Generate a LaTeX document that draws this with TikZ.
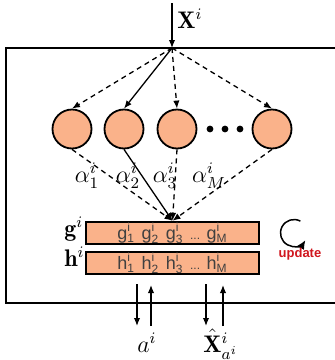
\documentclass[tikz,border=0pt,12pt]{standalone}
\usepackage{fontspec}
\setsansfont{Liberation Sans}
\usetikzlibrary{arrows.meta}
\definecolor{salmon}{RGB}{250,178,138}
\definecolor{updred}{RGB}{208,22,30}

\begin{document}
\begin{tikzpicture}[x=0.5pt,y=-0.5pt,
  unit/.style={circle,draw,line width=0.9pt,fill=salmon,minimum size=19.5pt,inner sep=0pt},
  vecbox/.style={rectangle,draw,line width=0.9pt,fill=salmon,minimum width=86.5pt,minimum height=11.3pt,inner sep=0pt,text=black!75,font=\sffamily\fontsize{9}{10}\selectfont},
  dsh/.style={dash pattern=on 2.5pt off 2pt},
  arr/.style={-{Latex[length=4pt,width=3.2pt]},line width=0.65pt},
  lab/.style={anchor=base west,inner sep=0pt}]
  \useasboundingbox (0,0) rectangle (335,360);
  % frame, open to the right
  \draw[line width=0.9pt] (345,48) -- (6,48) -- (6,303) -- (345,303);
  % input
  \coordinate (xin) at (172,3);
  \coordinate (top) at (172,48);
  \draw[arr] (xin) -- (top);
  \node[lab] (xlab) at (177,28) {$\mathbf{X}^i$};
  % heads
  \node[unit] (c1) at (72,129) {};
  \node[unit] (c2) at (124,129) {};
  \node[unit] (c3) at (177,129) {};
  \node[unit] (c4) at (272,129) {};
  \foreach \x in {210,225,240}
    \fill (\x,129) circle (3.4);
  \draw[arr,dsh] (top) -- (c1.north);
  \draw[arr] (top) -- (c2.north);
  \draw[arr,dsh] (top) -- (c3.north);
  \draw[arr,dsh] (top) -- (c4.north);
  % memory rows
  \node[vecbox] (gbox) at (172.5,233)
    {$\mathsf{g}^{\mathsf{i}}_{\mathsf{1}}$\hspace{3.3pt}$\mathsf{g}^{\mathsf{i}}_{\mathsf{2}}$\hspace{3.3pt}$\mathsf{g}^{\mathsf{i}}_{\mathsf{3}}$\hspace{3.3pt}{\tiny...}\hspace{3.3pt}$\mathsf{g}^{\mathsf{i}}_{\mathsf{M}}$};
  \node[vecbox] (hbox) at (172.5,263)
    {$\mathsf{h}^{\mathsf{i}}_{\mathsf{1}}$\hspace{3.3pt}$\mathsf{h}^{\mathsf{i}}_{\mathsf{2}}$\hspace{3.3pt}$\mathsf{h}^{\mathsf{i}}_{\mathsf{3}}$\hspace{3.3pt}{\tiny...}\hspace{3.3pt}$\mathsf{h}^{\mathsf{i}}_{\mathsf{M}}$};
  \node[lab] (glab) at (64,236) {$\mathbf{g}^i$};
  \node[lab] (hlab) at (64,266) {$\mathbf{h}^i$};
  \draw[arr,dsh] (c1.south) -- (gbox.north);
  \draw[arr] (c2.south) -- (gbox.north);
  \draw[arr,dsh] (c3.south) -- (gbox.north);
  \draw[arr,dsh] (c4.south) -- (gbox.north);
  % weights
  \node (w1) at (87,176) {$\alpha_1^i$};
  \node (w2) at (128,176) {$\alpha_2^i$};
  \node (w3) at (165,176) {$\alpha_3^i$};
  \node (wM) at (209,176) {$\alpha_M^i$};
  % update
  \coordinate (rot) at (294,233);
  \draw[-{Latex[length=4.5pt,width=4pt]},line width=0.75pt] ([shift={(-62:13.5)}]rot) arc[start angle=-62,end angle=-328,radius=13.5];
  \node[text=updred,font=\sffamily\bfseries\fontsize{6.5}{7}\selectfont] (upd) at (300,254) {update};
  % read / write
  \coordinate (a1) at (137,284);
  \coordinate (a2) at (137,326);
  \coordinate (a3) at (151,326);
  \coordinate (a4) at (151,285);
  \coordinate (b1) at (206,284);
  \coordinate (b2) at (206,326);
  \coordinate (b3) at (223,326);
  \coordinate (b4) at (223,285);
  \draw[arr] (a1) -- (a2);
  \draw[arr] (a3) -- (a4);
  \draw[arr] (b1) -- (b2);
  \draw[arr] (b3) -- (b4);
  \node[lab] (alab) at (137,352) {$a^i$};
  \node[lab] (xhlab) at (203,352) {$\hat{\mathbf{X}}^i_{a^i}$};
\end{tikzpicture}
\end{document}
